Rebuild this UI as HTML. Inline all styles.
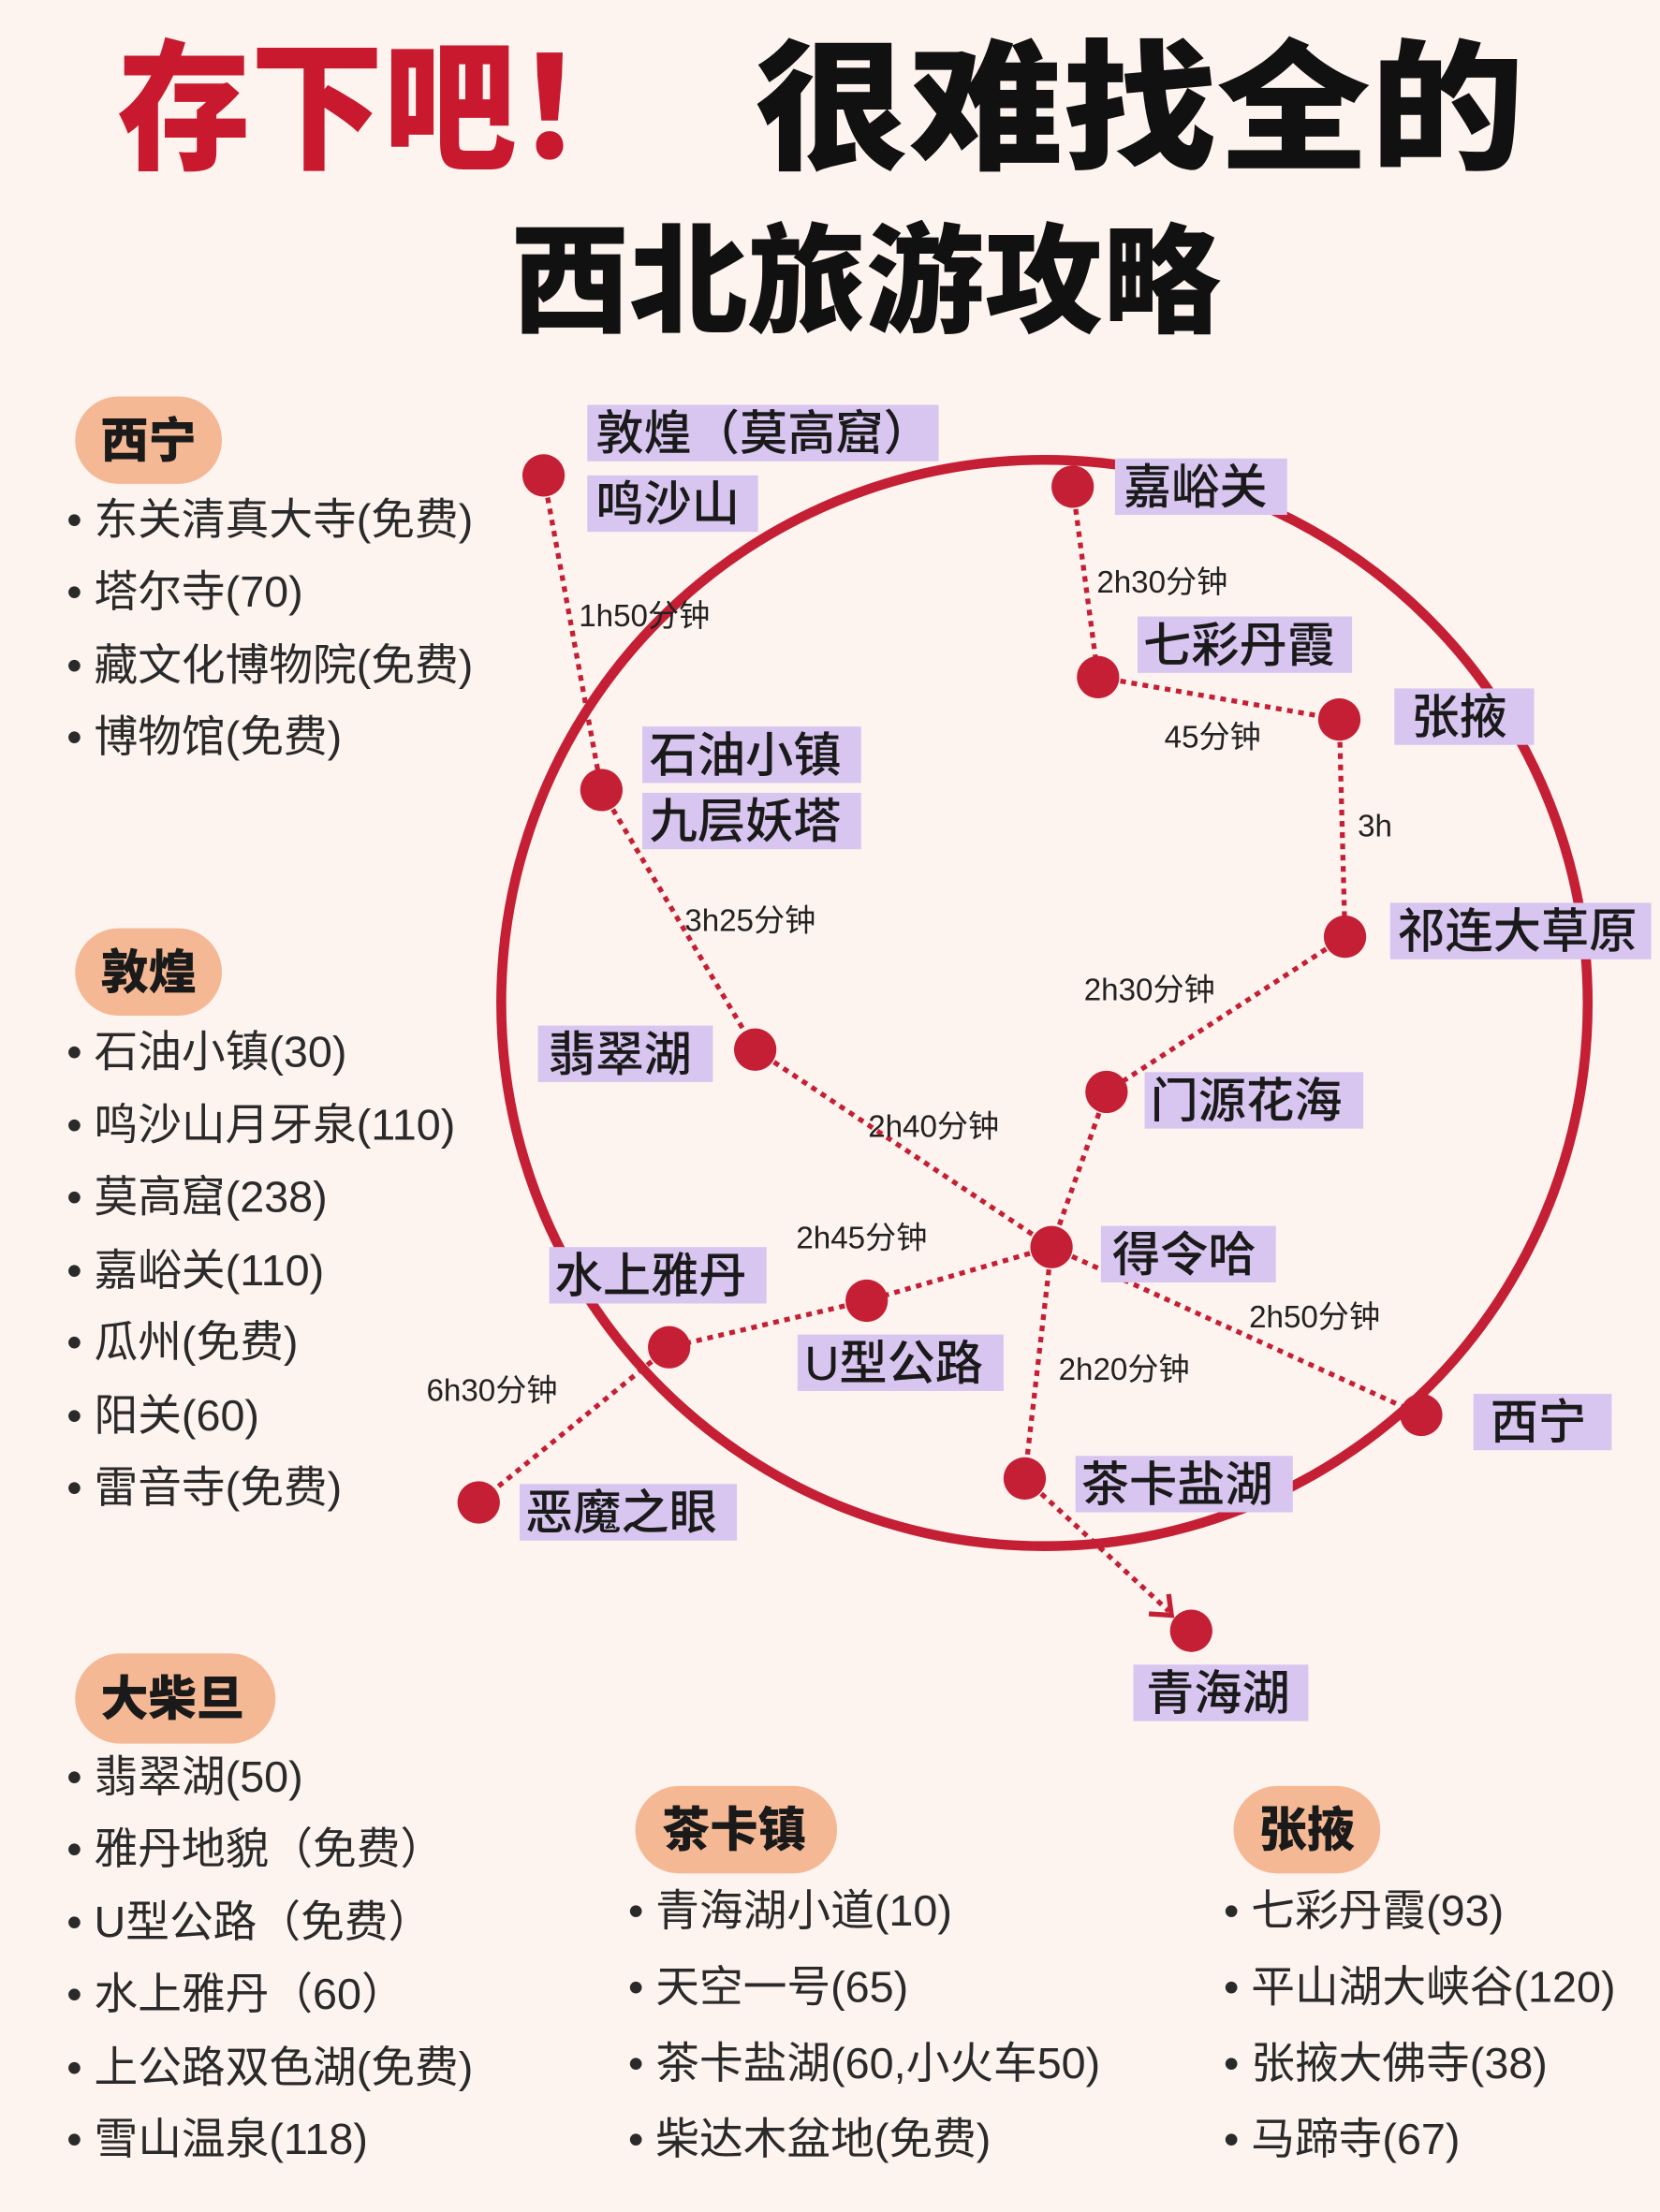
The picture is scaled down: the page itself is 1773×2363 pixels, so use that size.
<!DOCTYPE html>
<html><head><meta charset="utf-8">
<style>
html,body{margin:0;padding:0;background:#fdf3ef;}
svg{display:block;}
text{font-family:"Liberation Sans","Noto Sans CJK SC",sans-serif;}
.t{font-family:"Noto Sans CJK SC","WenQuanYi Zen Hei",sans-serif;font-weight:900;}
.lb{font-size:34px;fill:#1a1a1a;font-weight:500;}
.li{font-size:31px;fill:#2a2a2a;}
.hd{font-size:34px;font-weight:900;fill:#1a1a1a;}
.tm{font-size:22px;fill:#222;}
</style></head>
<body>
<svg width="1773" height="2363" viewBox="0 0 1176 1568" xmlns="http://www.w3.org/2000/svg">
<rect width="1176" height="1568" fill="#fdf3ef"/>
<text class="t" x="83" y="112" font-size="100" fill="#c8192e" textLength="377" lengthAdjust="spacingAndGlyphs">存下吧！</text>
<text class="t" x="535" y="112" font-size="100" fill="#111" textLength="545" lengthAdjust="spacingAndGlyphs">很难找全的</text>
<text class="t" x="362" y="229" font-size="84" fill="#111" textLength="503" lengthAdjust="spacingAndGlyphs">西北旅游攻略</text>

<circle cx="740" cy="711" r="385" fill="none" stroke="#c41f34" stroke-width="7"/>

<g stroke="#c41f34" stroke-width="3.5" stroke-dasharray="4,4" fill="none">
<line x1="385" y1="337" x2="426" y2="560"/>
<line x1="760" y1="345" x2="778" y2="480"/>
<line x1="778" y1="480" x2="949" y2="510"/>
<line x1="949" y1="510" x2="953" y2="664"/>
<line x1="426" y1="560" x2="535" y2="744"/>
<line x1="953" y1="664" x2="784" y2="774"/>
<line x1="535" y1="744" x2="745" y2="884"/>
<line x1="784" y1="774" x2="745" y2="884"/>
<line x1="745" y1="884" x2="614" y2="922"/>
<line x1="614" y1="922" x2="474" y2="955"/>
<line x1="474" y1="955" x2="339" y2="1065"/>
<line x1="745" y1="884" x2="1007" y2="1003"/>
<line x1="745" y1="884" x2="726" y2="1048"/>
<line x1="726" y1="1048" x2="828" y2="1142"/>
</g>
<polyline points="814,1144 830,1145 828,1130" fill="none" stroke="#c41f34" stroke-width="3.5"/>

<g fill="#c41f34">
<circle cx="385" cy="337" r="15"/><circle cx="760" cy="345" r="15"/>
<circle cx="778" cy="480" r="15"/><circle cx="949" cy="510" r="15"/>
<circle cx="426" cy="560" r="15"/><circle cx="953" cy="664" r="15"/>
<circle cx="535" cy="744" r="15"/><circle cx="784" cy="774" r="15"/>
<circle cx="745" cy="884" r="15"/><circle cx="614" cy="922" r="15"/>
<circle cx="474" cy="955" r="15"/><circle cx="1007" cy="1003" r="15"/>
<circle cx="339" cy="1065" r="15"/><circle cx="726" cy="1048" r="15"/>
<circle cx="844" cy="1156" r="15"/>
</g>

<g class="tm">
<text x="410" y="444">1h50分钟</text>
<text x="777" y="420">2h30分钟</text>
<text x="825" y="530">45分钟</text>
<text x="962" y="593">3h</text>
<text x="485" y="660">3h25分钟</text>
<text x="768" y="709">2h30分钟</text>
<text x="615" y="806">2h40分钟</text>
<text x="564" y="885">2h45分钟</text>
<text x="302" y="993">6h30分钟</text>
<text x="885" y="941">2h50分钟</text>
<text x="750" y="978">2h20分钟</text>
</g>

<g fill="#d8c5f0">
<rect x="416" y="287" width="249" height="40"/><rect x="416" y="337" width="121" height="40"/>
<rect x="790" y="325" width="122" height="40"/>
<rect x="806" y="437" width="152" height="40"/>
<rect x="988" y="488" width="99" height="40"/>
<rect x="455" y="515" width="155" height="40"/><rect x="455" y="562" width="155" height="40"/>
<rect x="985" y="640" width="185" height="40"/>
<rect x="381" y="727" width="124" height="40"/>
<rect x="811" y="760" width="155" height="40"/>
<rect x="780" y="869" width="124" height="40"/>
<rect x="389" y="884" width="154" height="40"/>
<rect x="565" y="946" width="146" height="40"/>
<rect x="1044" y="988" width="98" height="40"/>
<rect x="762" y="1032" width="154" height="40"/>
<rect x="368" y="1052" width="154" height="40"/>
<rect x="803" y="1180" width="124" height="40"/>
</g>
<g class="lb">
<text x="422" y="319">敦煌（莫高窟）</text>
<text x="422" y="369">鸣沙山</text>
<text x="796" y="357">嘉峪关</text>
<text x="810" y="469">七彩丹霞</text>
<text x="1000" y="520">张掖</text>
<text x="460" y="547">石油小镇</text>
<text x="460" y="594">九层妖塔</text>
<text x="990" y="672">祁连大草原</text>
<text x="388" y="759">翡翠湖</text>
<text x="815" y="792">门源花海</text>
<text x="788" y="901">得令哈</text>
<text x="393" y="916">水上雅丹</text>
<text x="570" y="978">U型公路</text>
<text x="1056" y="1020">西宁</text>
<text x="766" y="1064">茶卡盐湖</text>
<text x="372" y="1084">恶魔之眼</text>
<text x="812" y="1212">青海湖</text>
</g>

<g fill="#f5b894">
<rect x="53" y="281" width="104" height="62" rx="31"/>
<rect x="53" y="658" width="104" height="62" rx="31"/>
<rect x="53" y="1172" width="142" height="64" rx="32"/>
<rect x="450" y="1266" width="143" height="62" rx="31"/>
<rect x="874" y="1266" width="104" height="62" rx="31"/>
</g>
<g class="hd">
<text x="71" y="324">西宁</text>
<text x="71" y="701">敦煌</text>
<text x="71" y="1216">大柴旦</text>
<text x="469" y="1309">茶卡镇</text>
<text x="892" y="1309">张掖</text>
</g>

<g class="li">
<text x="47" y="379">• 东关清真大寺(免费)</text>
<text x="47" y="430">• 塔尔寺(70)</text>
<text x="47" y="482">• 藏文化博物院(免费)</text>
<text x="47" y="533">• 博物馆(免费)</text>

<text x="47" y="756">• 石油小镇(30)</text>
<text x="47" y="808">• 鸣沙山月牙泉(110)</text>
<text x="47" y="859">• 莫高窟(238)</text>
<text x="47" y="911">• 嘉峪关(110)</text>
<text x="47" y="962">• 瓜州(免费)</text>
<text x="47" y="1014">• 阳关(60)</text>
<text x="47" y="1065">• 雷音寺(免费)</text>

<text x="47" y="1270">• 翡翠湖(50)</text>
<text x="47" y="1321">• 雅丹地貌（免费）</text>
<text x="47" y="1373">• U型公路（免费）</text>
<text x="47" y="1424">• 水上雅丹（60）</text>
<text x="47" y="1476">• 上公路双色湖(免费)</text>
<text x="47" y="1527">• 雪山温泉(118)</text>

<text x="445" y="1365">• 青海湖小道(10)</text>
<text x="445" y="1419">• 天空一号(65)</text>
<text x="445" y="1473">• 茶卡盐湖(60,小火车50)</text>
<text x="445" y="1527">• 柴达木盆地(免费)</text>

<text x="867" y="1365">• 七彩丹霞(93)</text>
<text x="867" y="1419">• 平山湖大峡谷(120)</text>
<text x="867" y="1473">• 张掖大佛寺(38)</text>
<text x="867" y="1527">• 马蹄寺(67)</text>
</g>
</svg>
</body></html>
